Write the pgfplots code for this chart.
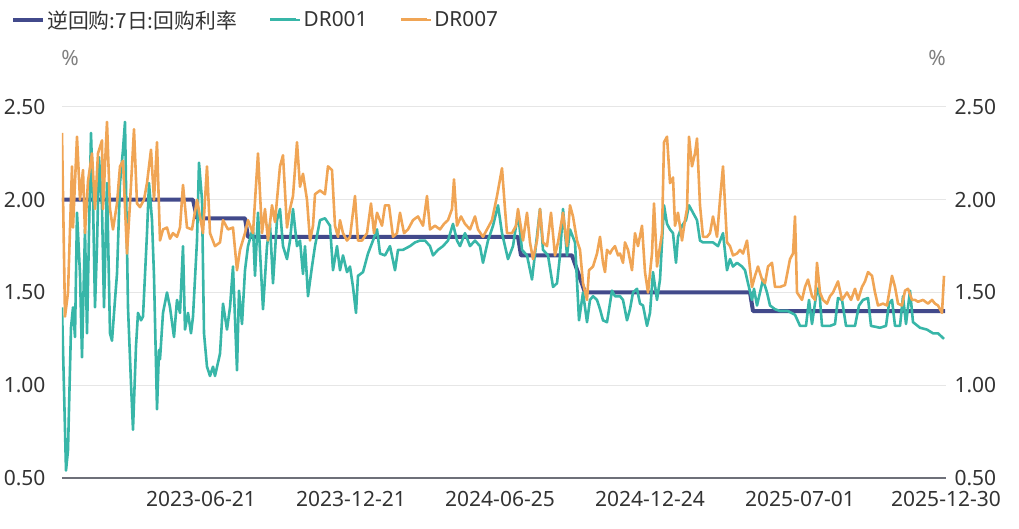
\documentclass[border=0pt]{standalone}
\usepackage{pgfplots}
\pgfplotsset{compat=1.18}
\usepackage{fontspec}
\setmainfont{Noto Sans}
\newfontfamily\cjk{Noto Sans CJK SC}
\definecolor{cblue}{RGB}{66,74,139}
\definecolor{cteal}{RGB}{56,182,168}
\definecolor{corange}{RGB}{240,165,85}
\definecolor{ctext}{RGB}{51,51,51}
\definecolor{cgrid}{RGB}{230,230,230}
\definecolor{caxis}{RGB}{110,112,121}
\newcommand\tf{\fontsize{21bp}{25bp}\selectfont}
\newcommand\lf{\fontsize{20.8bp}{25bp}\selectfont}
\begin{document}
\begin{tikzpicture}
\useasboundingbox (-62bp,-51bp) rectangle (957bp,478bp);
\begin{axis}[
  at={(0,0)}, anchor=south west,
  scale only axis, width=884bp, height=371bp,
  xmin=0, xmax=884, ymin=0.5, ymax=2.5,
  axis x line*=bottom, axis y line*=left,
  x axis line style={draw=caxis, line width=1.5bp},
  y axis line style={draw=none},
  major tick length=0pt,
  ymajorgrids, grid style={draw=cgrid, line width=1bp},
  ytick={0.5,1,1.5,2,2.5},
  yticklabels={0.50,1.00,1.50,2.00,2.50},
  xtick={139,289,438,588,738,884},
  xticklabels={2023-06-21,2023-12-21,2024-06-25,2024-12-24,2025-07-01,2025-12-30},
  tick label style={font=\tf, text=ctext},
  xticklabel style={yshift=-10bp},
  yticklabel style={xshift=-13bp},
  legend columns=3,
  legend style={at={(-0.0575,1.2345)}, anchor=west, draw=none, fill=none,
    font=\lf, text=ctext, inner sep=0pt,
    /tikz/every even column/.append style={column sep=30bp}},
  legend image code/.code={\draw[#1, line width=3bp] (0bp,0bp) -- (26bp,0bp); \path (0bp,0bp) -- (30bp,0bp);},
  line join=round,
]
\addplot[cblue, line width=4bp] coordinates {
(0,2.00)(131,2.00)(135,1.90)(183,1.90)(186,1.80)(456,1.80)(459,1.70)(510,1.70)(523,1.50)(688,1.50)(691,1.40)(883,1.40)};
\addlegendentry{\cjk 逆回购:7日:回购利率}
\addplot[cteal, line width=2.6bp] coordinates {
(0,1.42)(4,0.54)(6,0.65)(9,1.31)(11,1.42)(13,1.26)(15,1.93)(18,1.60)(20,1.15)(23,1.84)(25,1.28)(29,2.36)(31,2.00)(33,1.42)(35,1.75)(37,2.23)(40,1.96)(42,1.42)(45,2.09)(48,1.28)(50,1.24)(53,1.46)(55,1.60)(58,2.09)(61,2.27)(63,2.42)(66,1.42)(69,1.01)(71,0.76)(74,1.21)(76,1.39)(79,1.35)(81,1.37)(85,1.82)(87,2.09)(90,1.89)(92,1.59)(95,0.87)(97,1.19)(98,1.14)(101,1.39)(105,1.50)(108,1.42)(112,1.26)(115,1.46)(118,1.39)(121,1.75)(123,1.30)(126,1.39)(129,1.28)(131,1.37)(135,1.78)(137,2.20)(140,2.00)(142,1.28)(145,1.10)(148,1.05)(151,1.10)(153,1.05)(158,1.17)(161,1.44)(165,1.30)(168,1.42)(171,1.64)(175,1.08)(177,1.51)(180,1.33)(183,1.62)(186,1.75)(191,1.85)(193,1.59)(196,1.93)(201,1.41)(205,1.75)(208,1.87)(211,1.55)(215,1.89)(218,1.95)(221,1.75)(225,1.68)(228,1.78)(231,1.95)(235,1.75)(238,1.78)(241,1.60)(243,1.75)(246,1.48)(250,1.64)(253,1.75)(258,1.89)(263,1.90)(268,1.86)(271,1.62)(275,1.75)(278,1.62)(281,1.70)(285,1.61)(288,1.64)(291,1.53)(294,1.39)(296,1.59)(301,1.61)(306,1.71)(311,1.78)(315,1.84)(318,1.71)(323,1.70)(328,1.75)(333,1.62)(336,1.73)(341,1.73)(348,1.75)(353,1.77)(358,1.78)(363,1.78)(368,1.75)(371,1.70)(376,1.73)(381,1.75)(386,1.78)(391,1.87)(395,1.78)(398,1.75)(403,1.82)(408,1.75)(413,1.78)(418,1.75)(421,1.66)(426,1.78)(431,1.86)(436,1.97)(440,1.82)(443,1.75)(446,1.68)(451,1.75)(456,1.93)(460,1.73)(465,1.70)(470,1.57)(473,1.71)(478,1.95)(481,1.73)(486,1.70)(491,1.53)(495,1.55)(498,1.70)(501,1.95)(505,1.70)(508,1.84)(513,1.77)(517,1.35)(521,1.50)(525,1.34)(528,1.46)(531,1.48)(535,1.46)(538,1.41)(541,1.35)(545,1.34)(550,1.51)(553,1.48)(555,1.48)(558,1.48)(561,1.46)(565,1.35)(568,1.41)(571,1.50)(575,1.52)(578,1.44)(581,1.43)(585,1.32)(588,1.39)(591,1.61)(595,1.46)(598,1.57)(602,1.97)(605,1.87)(608,1.84)(611,1.82)(614,1.66)(616,1.80)(620,1.86)(624,1.89)(627,1.97)(631,1.93)(635,1.89)(638,1.78)(641,1.77)(646,1.77)(651,1.77)(656,1.75)(661,1.82)(665,1.62)(668,1.68)(671,1.64)(675,1.66)(680,1.64)(683,1.62)(686,1.55)(690,1.46)(692,1.52)(695,1.43)(698,1.50)(701,1.57)(705,1.50)(708,1.43)(713,1.41)(718,1.40)(726,1.40)(733,1.38)(738,1.32)(744,1.32)(747,1.46)(750,1.33)(754,1.48)(757,1.53)(760,1.32)(768,1.32)(773,1.33)(776,1.47)(780,1.46)(784,1.32)(793,1.32)(797,1.43)(801,1.46)(806,1.47)(809,1.32)(818,1.31)(824,1.32)(827,1.44)(830,1.46)(833,1.32)(838,1.32)(841,1.48)(844,1.33)(848,1.51)(851,1.34)(858,1.31)(865,1.30)(871,1.28)(876,1.28)(882,1.25)};
\addlegendentry{DR001}
\addplot[corange, line width=2.6bp] coordinates {
(0,2.36)(3,1.37)(6,1.50)(10,2.18)(11,1.85)(15,2.34)(18,2.00)(21,2.16)(23,1.82)(26,2.10)(30,2.25)(33,1.95)(36,2.25)(40,2.32)(41,1.95)(45,2.42)(48,1.95)(51,1.84)(55,1.98)(58,2.18)(61,2.21)(65,1.71)(68,1.98)(72,2.38)(75,1.98)(78,1.96)(82,2.00)(85,2.09)(89,2.27)(92,2.00)(95,2.31)(98,1.78)(101,1.84)(105,1.85)(108,1.79)(111,1.82)(115,1.80)(118,1.85)(121,2.08)(125,1.85)(130,1.84)(135,2.00)(138,1.91)(141,1.82)(145,2.18)(148,1.82)(153,1.75)(158,1.77)(161,1.89)(166,1.84)(171,1.85)(175,1.62)(178,1.73)(183,1.82)(186,1.89)(191,1.82)(196,2.25)(200,1.82)(203,1.95)(206,1.78)(210,1.97)(213,1.88)(218,2.18)(221,2.24)(225,1.85)(228,1.95)(231,2.02)(235,2.31)(238,2.07)(241,2.14)(245,2.00)(248,1.78)(251,1.86)(253,2.03)(258,2.05)(263,2.03)(266,2.18)(270,2.16)(273,1.86)(276,1.80)(278,1.89)(281,1.82)(285,1.78)(288,1.80)(293,2.02)(296,1.78)(300,1.78)(305,1.82)(309,1.98)(312,1.82)(315,1.93)(320,1.86)(323,1.97)(327,1.97)(331,1.80)(335,1.82)(338,1.93)(342,1.82)(346,1.84)(351,1.89)(356,1.91)(361,1.86)(365,2.02)(368,1.84)(373,1.86)(378,1.84)(382,1.87)(386,1.89)(390,1.95)(392,2.11)(395,1.86)(399,1.91)(403,1.87)(408,1.84)(413,1.91)(416,1.84)(421,1.80)(425,1.84)(430,1.89)(435,2.02)(440,2.17)(443,1.95)(445,1.82)(450,1.82)(454,1.86)(456,1.95)(461,1.78)(465,1.93)(468,1.77)(471,1.68)(475,1.78)(478,1.95)(481,1.77)(485,1.75)(489,1.93)(493,1.70)(496,1.77)(501,1.93)(505,1.75)(508,1.97)(511,1.91)(515,1.78)(518,1.73)(521,1.55)(525,1.46)(527,1.62)(531,1.64)(535,1.71)(538,1.80)(541,1.66)(543,1.61)(545,1.73)(548,1.71)(550,1.73)(553,1.75)(556,1.70)(558,1.71)(561,1.66)(563,1.77)(566,1.73)(570,1.62)(573,1.82)(576,1.75)(580,1.86)(583,1.61)(586,1.50)(590,1.71)(592,1.98)(595,1.64)(600,1.82)(602,2.31)(605,2.34)(608,2.09)(611,2.12)(613,1.86)(616,1.93)(620,1.78)(623,1.89)(625,1.95)(627,2.34)(630,2.18)(633,2.25)(635,2.33)(638,1.97)(641,1.80)(645,1.80)(648,1.82)(651,1.91)(655,1.80)(658,2.00)(661,2.18)(665,1.77)(668,1.75)(671,1.70)(675,1.71)(678,1.73)(681,1.71)(685,1.78)(690,1.53)(693,1.59)(696,1.64)(700,1.57)(703,1.55)(706,1.64)(710,1.66)(713,1.53)(718,1.53)(723,1.54)(728,1.68)(731,1.71)(733,1.91)(735,1.50)(740,1.46)(743,1.53)(746,1.57)(750,1.48)(753,1.46)(755,1.66)(758,1.50)(761,1.46)(765,1.44)(768,1.48)(771,1.50)(776,1.56)(780,1.46)(785,1.50)(789,1.46)(793,1.52)(796,1.46)(800,1.53)(803,1.56)(806,1.61)(810,1.59)(813,1.50)(816,1.43)(821,1.44)(825,1.43)(830,1.59)(833,1.53)(836,1.44)(840,1.43)(843,1.51)(846,1.52)(850,1.46)(853,1.46)(856,1.45)(861,1.46)(866,1.44)(870,1.46)(873,1.44)(876,1.43)(880,1.39)(882,1.59)};
\addlegendentry{DR007}
\end{axis}
\begin{axis}[
  at={(0,0)}, anchor=south west,
  scale only axis, width=884bp, height=371bp,
  xmin=0, xmax=884, ymin=0.5, ymax=2.5,
  axis x line=none, axis y line*=right,
  y axis line style={draw=none},
  major tick length=0pt,
  ytick={0.5,1,1.5,2,2.5},
  yticklabels={0.50,1.00,1.50,2.00,2.50},
  tick label style={font=\tf, text=ctext},
  yticklabel style={xshift=5bp},
]
\addplot[draw=none] coordinates {(0,1)};
\end{axis}
\node[font=\tf, text=gray] at (8bp,420bp) {\%};
\node[font=\tf, text=gray] at (875bp,420bp) {\%};
\end{tikzpicture}
\end{document}
